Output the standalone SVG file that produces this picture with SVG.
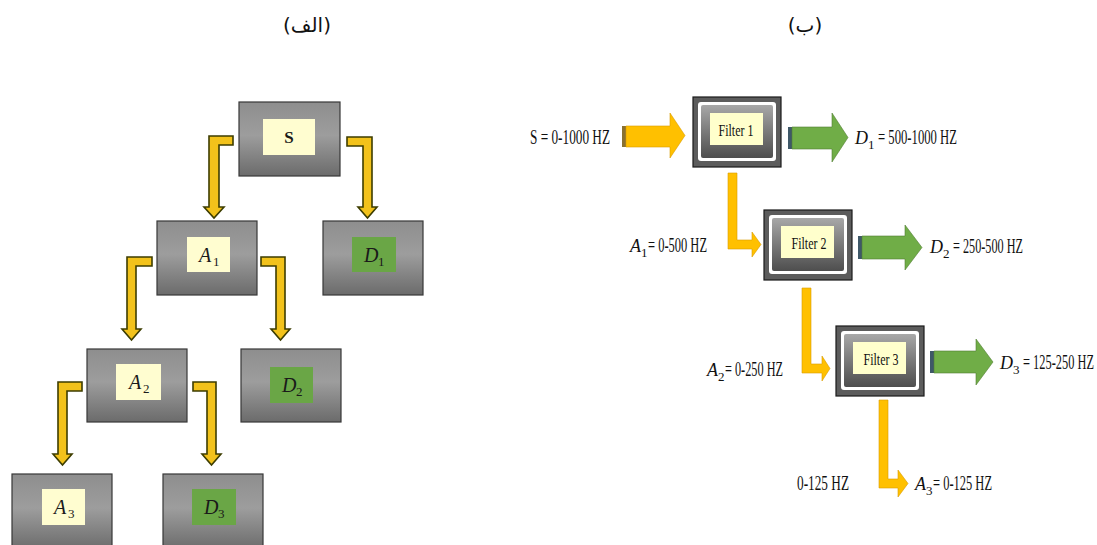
<svg xmlns="http://www.w3.org/2000/svg" width="1097" height="545" viewBox="0 0 1097 545">
  <style>
    .title { font-family: "DejaVu Sans", "Noto Sans", sans-serif; font-size: 20px; fill: #111; }
    .box { fill: url(#boxGrad); stroke: #383838; stroke-width: 1.2; }
    .pale { fill: #fffdd0; }
    .leaf { fill: #6aa646; }
    .sym { font-family: "Liberation Serif", serif; font-size: 20px; font-style: italic; fill: #1a1a1a; }
    .sub { font-family: "Liberation Serif", serif; font-size: 13px; fill: #1a1a1a; }
    .bent { fill: #f2c21b; stroke: #3d3d00; stroke-width: 1.6; stroke-linejoin: miter; }
    .lbl { font-family: "Liberation Serif", serif; font-size: 20px; fill: #111; }
    .lblIt { font-family: "Liberation Serif", serif; font-size: 18px; font-style: italic; fill: #111; }
    .lblSub { font-family: "Liberation Serif", serif; font-size: 13px; fill: #111; }
    .flt { font-family: "Liberation Serif", serif; font-size: 17px; fill: #111; text-anchor: middle; }
    .gold { fill: #ffc000; stroke: #d89b00; stroke-width: 0.6; }
    .goldSlab { fill: #8a7130; }
    .green { fill: #70ad47; stroke: #507e33; stroke-width: 0.6; }
    .greenSlab { fill: #3f5868; }
  </style>
  <defs>
    <linearGradient id="boxGrad" x1="0" y1="0" x2="0" y2="1">
      <stop offset="0" stop-color="#8e8e8e"/>
      <stop offset="0.45" stop-color="#9d9d9d"/>
      <stop offset="1" stop-color="#6b6b6b"/>
    </linearGradient>
    <linearGradient id="bevel" x1="0" y1="0" x2="0" y2="1">
      <stop offset="0" stop-color="#a8a8a8"/>
      <stop offset="0.5" stop-color="#7a7a7a"/>
      <stop offset="1" stop-color="#4e4e4e"/>
    </linearGradient>
    <!-- framed filter block, 88 x 70 -->
    <g id="filterFrame">
      <rect x="0" y="0" width="88" height="70" fill="#5c5c5c" stroke="#1a1a1a" stroke-width="1.2"/>
      <rect x="5" y="5" width="78" height="59" rx="3" fill="#ffffff"/>
      <rect x="8" y="8" width="72" height="53" rx="2" fill="url(#bevel)"/>
      <rect x="17" y="16" width="53" height="32" fill="#ffffcc"/>
    </g>
  </defs>

  <rect width="1097" height="545" fill="#ffffff"/>

  <!-- captions -->
  <text class="title" x="307" y="32" text-anchor="middle">(الف)</text>
  <text class="title" x="805" y="32" text-anchor="middle">(ب)</text>

  <!-- ===== decomposition tree ===== -->
  <g id="connectors-tree">
    <!-- S -> A1 / D1 -->
    <path class="bent" d="M233,136 H209 V207 H204 L214,218 L224,207 H219 V145 H233 Z"/>
    <path class="bent" d="M347,137 H372 V207 H377 L367.5,218 L358,207 H363 V146 H347 Z"/>
    <!-- A1 -> A2 / D2 -->
    <path class="bent" d="M152,257 H127 V329 H122 L131.5,340 L141,329 H136 V266 H152 Z"/>
    <path class="bent" d="M261,257 H285 V329 H290 L280.5,340 L271,329 H276 V266 H261 Z"/>
    <!-- A2 -> A3 / D3 -->
    <path class="bent" d="M82,382 H58 V454 H53 L62.5,465 L72,454 H67 V391 H82 Z"/>
    <path class="bent" d="M193,382 H216 V454 H221 L211.5,465 L202,454 H207 V391 H193 Z"/>
  </g>

  <g id="node-S">
    <rect class="box" x="239" y="102" width="101" height="74"/>
    <rect class="pale" x="263" y="119" width="52" height="36"/>
    <text x="289" y="143" text-anchor="middle" font-family="Liberation Serif, serif" font-weight="bold" font-size="17" fill="#1a1a1a">S</text>
  </g>
  <g id="node-A1">
    <rect class="box" x="157" y="221" width="100" height="74"/>
    <rect class="pale" x="187" y="237" width="43" height="35"/>
    <text class="sym" x="199" y="262">A</text><text class="sub" x="213" y="266">1</text>
  </g>
  <g id="node-D1">
    <rect class="box" x="323" y="221" width="100" height="74"/>
    <rect class="leaf" x="352" y="237" width="44" height="35"/>
    <text class="sym" x="364" y="262">D</text><text class="sub" x="378" y="266">1</text>
  </g>
  <g id="node-A2">
    <rect class="box" x="87" y="349" width="100" height="73"/>
    <rect class="pale" x="116" y="364" width="45" height="36"/>
    <text class="sym" x="129" y="389">A</text><text class="sub" x="143" y="393">2</text>
  </g>
  <g id="node-D2">
    <rect class="box" x="241" y="349" width="100" height="73"/>
    <rect class="leaf" x="270" y="367" width="43" height="36"/>
    <text class="sym" x="282" y="392">D</text><text class="sub" x="296" y="396">2</text>
  </g>
  <g id="node-A3">
    <rect class="box" x="12" y="474" width="100" height="76"/>
    <rect class="pale" x="42" y="489" width="43" height="36"/>
    <text class="sym" x="54" y="514">A</text><text class="sub" x="68" y="518">3</text>
  </g>
  <g id="node-D3">
    <rect class="box" x="163" y="474" width="100" height="76"/>
    <rect class="leaf" x="192" y="489" width="44" height="36"/>
    <text class="sym" x="204" y="514">D</text><text class="sub" x="218" y="518">3</text>
  </g>

  <!-- ===== filter bank ===== -->
  <g id="connectors-bank">
    <!-- input -->
    <rect class="goldSlab" x="622" y="126" width="4" height="21"/>
    <path class="gold" d="M626,126 H670 V113 L685,135.5 L670,158 V147 H626 Z"/>
    <!-- detail outputs -->
    <rect class="greenSlab" x="788" y="127" width="4" height="22"/>
    <path class="green" d="M792,127 H832 V113 L848,137.5 L832,162 V149 H792 Z"/>
    <rect class="greenSlab" x="858" y="236" width="4" height="23"/>
    <path class="green" d="M862,236 H905 V225 L922,247.5 L905,270 V259 H862 Z"/>
    <rect class="greenSlab" x="930" y="351" width="4" height="22"/>
    <path class="green" d="M934,351 H976 V339 L993,362 L976,385 V373 H934 Z"/>
    <!-- approximation paths -->
    <path class="gold" d="M728,173 H737 V240 H752 V232 L761,244.5 L752,257 V249 H728 Z"/>
    <path class="gold" d="M802,288 H811 V364 H822 V356 L830,368.5 L822,381 V373 H802 Z"/>
    <path class="gold" d="M879,400 H888 V479 H898 V470 L908,483.5 L898,497 V488 H879 Z"/>
  </g>

  <g id="filter-1">
    <use href="#filterFrame" x="693" y="97"/>
    <text class="flt" x="736" y="136" textLength="35" lengthAdjust="spacingAndGlyphs">Filter 1</text>
  </g>
  <g id="filter-2">
    <use href="#filterFrame" x="764" y="210"/>
    <text class="flt" x="809" y="249" textLength="35" lengthAdjust="spacingAndGlyphs">Filter 2</text>
  </g>
  <g id="filter-3">
    <use href="#filterFrame" x="836" y="326"/>
    <text class="flt" x="881" y="365" textLength="35" lengthAdjust="spacingAndGlyphs">Filter 3</text>
  </g>

  <g id="labels">
    <text class="lbl" x="530" y="144" textLength="80" lengthAdjust="spacingAndGlyphs">S = 0-1000 HZ</text>

    <text class="lblIt" x="855" y="144">D</text><text class="lblSub" x="868" y="149">1</text>
    <text class="lbl" x="878" y="144" textLength="79" lengthAdjust="spacingAndGlyphs">= 500-1000 HZ</text>

    <text class="lblIt" x="630" y="252">A</text><text class="lblSub" x="641" y="257">1</text>
    <text class="lbl" x="648" y="252" textLength="59" lengthAdjust="spacingAndGlyphs">= 0-500 HZ</text>

    <text class="lblIt" x="930" y="253">D</text><text class="lblSub" x="943" y="258">2</text>
    <text class="lbl" x="953" y="253" textLength="70" lengthAdjust="spacingAndGlyphs">= 250-500 HZ</text>

    <text class="lblIt" x="707" y="376">A</text><text class="lblSub" x="718" y="381">2</text>
    <text class="lbl" x="725" y="376" textLength="58" lengthAdjust="spacingAndGlyphs">= 0-250 HZ</text>

    <text class="lblIt" x="1000" y="369">D</text><text class="lblSub" x="1013" y="374">3</text>
    <!-- narrow run squeezed by scaling so it stays inside the right edge -->
    <text class="lbl" transform="translate(1023,369) scale(0.62,1)" x="0" y="0">= 125-250 HZ</text>

    <text class="lbl" x="797" y="490" textLength="52" lengthAdjust="spacingAndGlyphs">0-125 HZ</text>

    <text class="lblIt" x="915" y="490">A</text><text class="lblSub" x="926" y="495">3</text>
    <text class="lbl" x="933" y="490" textLength="59" lengthAdjust="spacingAndGlyphs">= 0-125 HZ</text>
  </g>
</svg>
